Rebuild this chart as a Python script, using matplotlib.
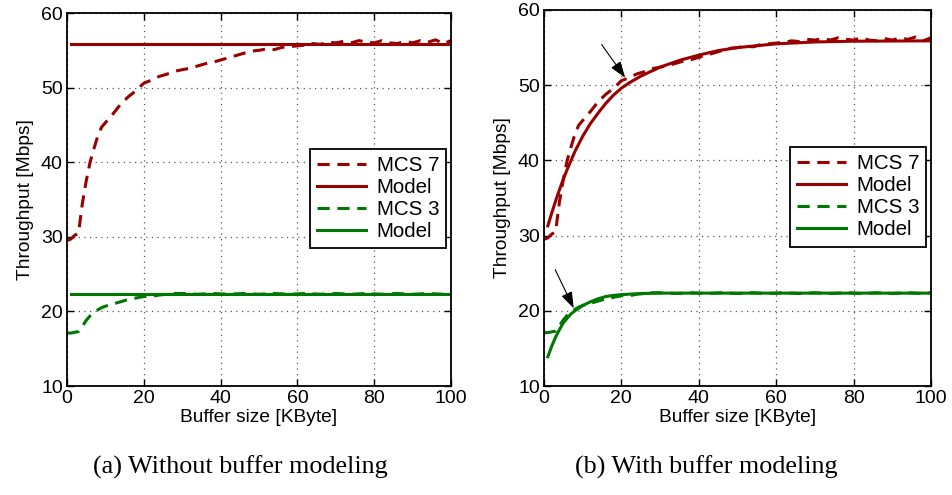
import numpy as np
import matplotlib.pyplot as plt
from matplotlib import font_manager

# measured throughput (same runs in both panels)
x_mcs7 = [0, 1, 2, 3, 4, 5, 6, 7, 8, 9, 10, 12, 14, 16, 18, 20, 22, 24, 26, 28, 30,
          32, 34, 36, 38, 40, 42, 44, 46, 48, 50, 52, 54, 56, 58, 60, 62, 64, 66, 68,
          70, 72, 74, 76, 78, 80, 82, 84, 86, 88, 90, 92, 94, 96, 98, 100]
y_mcs7 = [29.5, 29.7, 30.2, 30.5, 34.5, 37.5, 40.0, 41.8, 43.5, 44.7, 45.3, 46.5, 47.8,
          48.8, 49.6, 50.6, 51.0, 51.5, 51.8, 52.2, 52.4, 52.6, 52.9, 53.2, 53.4, 53.7,
          54.0, 54.3, 54.6, 54.9, 55.0, 55.2, 55.1, 55.4, 55.5, 55.6, 55.7, 55.9, 55.8,
          56.1, 56.0, 56.2, 56.0, 56.3, 56.1, 56.0, 56.3, 56.0, 55.9, 56.2, 56.0, 56.3,
          56.1, 56.4, 55.9, 56.3]
x_mcs3 = [0, 1, 2, 3, 4, 5, 6, 7, 8, 9, 10, 12, 14, 16, 18, 20, 22, 24, 26, 28, 30,
          34, 38, 42, 46, 50, 54, 58, 62, 66, 70, 74, 78, 82, 86, 90, 94, 98, 100]
y_mcs3 = [17.1, 17.1, 17.2, 17.3, 18.0, 18.8, 19.4, 19.8, 20.2, 20.5, 20.7, 21.0, 21.3,
          21.6, 21.8, 22.0, 22.0, 22.2, 22.3, 22.4, 22.4, 22.3, 22.4, 22.3, 22.4, 22.3,
          22.4, 22.3, 22.4, 22.3, 22.4, 22.3, 22.4, 22.3, 22.4, 22.3, 22.4, 22.3, 22.4]

# model without buffer (flat)
x_flat = [1, 100]
y_flat7 = [55.85, 55.85]
y_flat3 = [22.35, 22.35]

# model with buffer
x_mod7 = [1, 2, 3, 4, 5, 6, 8, 10, 12, 14, 16, 18, 20, 22, 25, 30, 35, 40, 45, 50,
          60, 70, 80, 100]
y_mod7 = [31.3, 33.0, 34.6, 36.1, 37.5, 38.8, 41.2, 43.2, 44.9, 46.3, 47.6, 48.7, 49.6,
          50.3, 51.2, 52.4, 53.3, 54.0, 54.6, 55.0, 55.5, 55.75, 55.85, 55.9]
x_mod3 = [1, 2, 3, 4, 5, 6, 7, 8, 10, 12, 14, 16, 18, 20, 25, 30, 100]
y_mod3 = [13.9, 15.3, 16.5, 17.5, 18.4, 19.0, 19.6, 20.0, 20.7, 21.2, 21.6, 21.9, 22.05,
          22.15, 22.3, 22.35, 22.35]

red = '#990000'
green = '#007700'

fams = {f.name for f in font_manager.fontManager.ttflist}
sans = 'Liberation Sans' if 'Liberation Sans' in fams else 'DejaVu Sans'
serif = 'Liberation Serif' if 'Liberation Serif' in fams else 'DejaVu Serif'
plt.rcParams['font.family'] = sans

fig = plt.figure(figsize=(9.52, 4.95), dpi=100)
ax1 = fig.add_axes([0.0704, 0.2202, 0.4034, 0.7535])
ax2 = fig.add_axes([0.5714, 0.2202, 0.4065, 0.7596])

dash = (4, 2.5)


def style(ax):
    ax.set_xlim(0, 100)
    ax.set_ylim(10, 60)
    ax.set_xticks(np.arange(0, 101, 20))
    ax.set_yticks(np.arange(10, 61, 10))
    ax.grid(True, color='#555555', linestyle=(0, (1, 3.5)), linewidth=0.9)
    ax.tick_params(direction='in', top=True, right=True, length=5, width=1,
                   labelsize=14, pad=3)
    for s in ax.spines.values():
        s.set_linewidth(1.3)
    ax.set_xlabel('Buffer size [KByte]', fontsize=13.8, labelpad=1)
    ax.set_ylabel('Throughput [Mbps]', fontsize=13.8, labelpad=5)
    ax.legend(loc='center right', bbox_to_anchor=(0.988, 0.503), fontsize=14.8,
              fancybox=False, framealpha=1, edgecolor='black', handlelength=2.4,
              labelspacing=0.15, handletextpad=0.5, borderpad=0.35, borderaxespad=0)
    ax.get_legend().get_frame().set_linewidth(1.3)


ax1.plot(x_mcs7, y_mcs7, color=red, lw=2.2, dashes=dash, label='MCS 7')
ax1.plot(x_flat, y_flat7, color=red, lw=2.2, label='Model')
ax1.plot(x_mcs3, y_mcs3, color=green, lw=2.2, dashes=dash, label='MCS 3')
ax1.plot(x_flat, y_flat3, color=green, lw=2.2, label='Model')
style(ax1)

ax2.plot(x_mcs7, y_mcs7, color=red, lw=2.2, dashes=dash, label='MCS 7')
ax2.plot(x_mod7, y_mod7, color=red, lw=2.2, label='Model')
ax2.plot(x_mcs3, y_mcs3, color=green, lw=2.2, dashes=dash, label='MCS 3')
ax2.plot(x_mod3, y_mod3, color=green, lw=2.2, label='Model')
style(ax2)

arrow = dict(arrowstyle='-|>,head_length=1.0,head_width=0.35', color='black', lw=0.8)
ax2.annotate('', xy=(21.4, 50.7), xytext=(14.5, 55.7), arrowprops=arrow)
ax2.annotate('', xy=(8.0, 20.0), xytext=(2.6, 25.8), arrowprops=arrow)

fig.text(240 / 952, 1 - 467 / 495, '(a) Without buffer modeling', family=serif,
         fontsize=18.8, ha='center', va='center')
fig.text(706 / 952, 1 - 467 / 495, '(b) With buffer modeling', family=serif,
         fontsize=18.8, ha='center', va='center')

fig.savefig('out.png', dpi=100)
